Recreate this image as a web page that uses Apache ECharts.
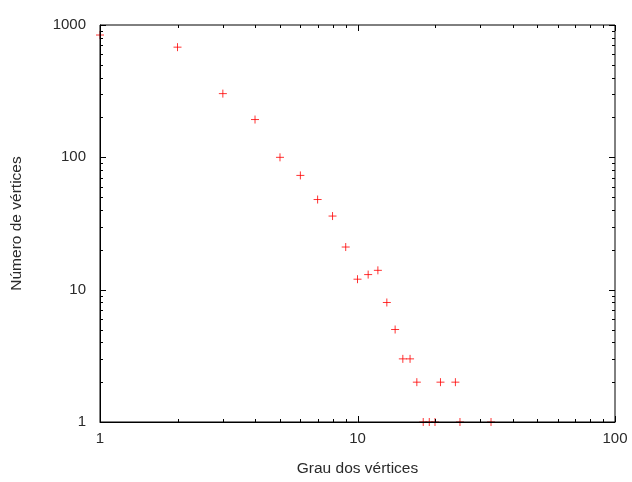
<!DOCTYPE html>
<html>
<head>
<meta charset="utf-8">
<script src="https://cdn.jsdelivr.net/npm/echarts@6/dist/echarts.min.js"></script>
<style>
html,body{margin:0;padding:0;background:#fff;}
#chart{width:632px;height:482px;}
</style>
</head>
<body>
<div id="chart"></div>
<script>
// Data
const degrees = [1, 2, 3, 4, 5, 6, 7, 8, 9, 10, 11, 12, 13, 14, 15, 16, 17, 18, 19, 20, 21, 24, 25, 33];
const counts  = [840, 680, 303, 193, 100, 73, 48, 36, 21, 12, 13, 14, 8, 5, 3, 3, 2, 1, 1, 1, 2, 2, 1, 1];

const xMajorTicks = [1, 10, 100];
const xMinorTicks = [2, 3, 4, 5, 6, 7, 8, 9, 20, 30, 40, 50, 60, 70, 80, 90];
const yMajorTicks = [1, 10, 100, 1000];
const yMinorTicks = [2, 3, 4, 5, 6, 7, 8, 9, 20, 30, 40, 50, 60, 70, 80, 90, 200, 300, 400, 500, 600, 700, 800, 900];

const xTitle = 'Grau dos vértices';
const yTitle = 'Número de vértices';

const points = degrees.map((d, i) => [d, counts[i]]);

// tick items: [x, y, kind(0=x,1=y), length]
const tickData = [];
xMajorTicks.forEach(v => tickData.push([v, 1, 0, 6]));
xMinorTicks.forEach(v => tickData.push([v, 1, 0, 3]));
yMajorTicks.forEach(v => tickData.push([1, v, 1, 6]));
yMinorTicks.forEach(v => tickData.push([1, v, 1, 3]));

const chart = echarts.init(document.getElementById('chart'), null, {renderer: 'canvas'});
const font = 'Liberation Sans, Arial, sans-serif';
const textColor = '#2a2a2a';

chart.setOption({
  animation: false,
  backgroundColor: '#ffffff',
  grid: {left: 100, right: 17, top: 25, bottom: 58, show: true, borderColor: '#000', borderWidth: 1, backgroundColor: 'transparent', z: 10},
  xAxis: {
    type: 'log', logBase: 10, min: 1, max: 100,
    name: xTitle, nameLocation: 'middle', nameGap: 39,
    nameTextStyle: {fontFamily: font, fontSize: 15.5, color: textColor},
    axisLine: {show: true, lineStyle: {color: '#000', width: 1}},
    axisTick: {show: false},
    splitLine: {show: false},
    minorTick: {show: false},
    axisLabel: {fontFamily: font, fontSize: 15, color: textColor, margin: 9, formatter: v => String(v)},
    z: 10
  },
  yAxis: {
    type: 'log', logBase: 10, min: 1, max: 1000,
    name: yTitle, nameLocation: 'middle', nameGap: 75,
    nameTextStyle: {fontFamily: font, fontSize: 15.5, color: textColor},
    axisLine: {show: true, lineStyle: {color: '#000', width: 1}},
    axisTick: {show: false},
    splitLine: {show: false},
    minorTick: {show: false},
    axisLabel: {fontFamily: font, fontSize: 15, color: textColor, margin: 14, formatter: v => String(v)},
    z: 10
  },
  series: [
    {
      type: 'scatter',
      data: points,
      symbol: 'path://M0,-1L0,1M-1,0L1,0',
      symbolSize: 8,
      itemStyle: {color: 'none', borderColor: '#ff0000', borderWidth: 1},
      clip: false,
      z: 2
    },
    {
      type: 'custom',
      data: tickData,
      clip: false,
      silent: true,
      z: 11,
      renderItem: function (params, api) {
        const cs = params.coordSys;
        const kind = api.value(2);
        const len = api.value(3);
        const style = {stroke: '#000', lineWidth: 1};
        if (kind === 0) {
          const px = Math.round(api.coord([api.value(0), 1])[0]) + 0.5;
          const b = cs.y + cs.height, t = cs.y;
          return {type: 'group', children: [
            {type: 'line', shape: {x1: px, y1: b, x2: px, y2: b - len}, style: style},
            {type: 'line', shape: {x1: px, y1: t, x2: px, y2: t + len}, style: style}
          ]};
        } else {
          const py = Math.round(api.coord([1, api.value(1)])[1]) + 0.5;
          const l = cs.x, r = cs.x + cs.width;
          return {type: 'group', children: [
            {type: 'line', shape: {x1: l, y1: py, x2: l + len, y2: py}, style: style},
            {type: 'line', shape: {x1: r, y1: py, x2: r - len, y2: py}, style: style}
          ]};
        }
      }
    }
  ]
});
</script>
</body>
</html>
